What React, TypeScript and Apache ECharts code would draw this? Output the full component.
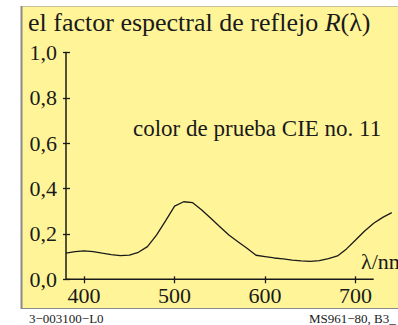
import React, { useEffect, useRef } from "react";
import * as echarts from "echarts";

const wavelengths = [380, 390, 400, 410, 420, 430, 440, 450, 460, 470, 480, 490, 500, 510, 520, 530, 540, 550, 560, 570, 580, 590, 600, 610, 620, 630, 640, 650, 660, 670, 680, 690, 700, 710, 720, 730, 740];
const reflectance = [0.115, 0.122, 0.125, 0.122, 0.115, 0.109, 0.104, 0.107, 0.119, 0.144, 0.195, 0.258, 0.323, 0.342, 0.338, 0.306, 0.269, 0.232, 0.195, 0.166, 0.137, 0.106, 0.100, 0.094, 0.090, 0.085, 0.081, 0.079, 0.082, 0.091, 0.103, 0.134, 0.173, 0.213, 0.247, 0.273, 0.294];
const xTickValues = [400, 500, 600, 700];
const yTickValues = [0, 0.2, 0.4, 0.6, 0.8, 1.0];
const xAxisExtent = [380, 720];

const FONT = "'Liberation Serif', 'Times New Roman', Times, serif";
const INK = "#1a1a1a";

export default function App() {
  const ref = useRef<HTMLDivElement>(null);
  useEffect(() => {
    document.body.style.margin = "0";
    if (!ref.current) return;
    const chart = echarts.init(ref.current, null, { renderer: "svg" });
    const tickLine = { color: INK, width: 1.3 };
    const txt = (text: string, x: number, y: number, size: number) => ({
      type: "text",
      x,
      y,
      style: { text, fontFamily: FONT, fontSize: size, fill: INK, verticalAlign: "middle" },
    });
    const option: any = {
      animation: false,
      title: [
        {
          text: "el factor espectral de reflejo {i|R}(λ)",
          left: 28,
          top: 9,
          padding: 0,
          textStyle: {
            fontFamily: FONT,
            fontSize: 26,
            fontWeight: "normal",
            color: INK,
            rich: { i: { fontFamily: FONT, fontSize: 26, fontStyle: "italic", color: INK } },
          },
        },
      ],
      graphic: [
        { type: "rect", z: -10, silent: true, shape: { x: 21, y: 6, width: 377, height: 302 }, style: { fill: "#fff598" } },
        { type: "line", z: -9, silent: true, shape: { x1: 21, y1: 6.5, x2: 398, y2: 6.5 }, style: { stroke: "#c8c29a", lineWidth: 1 } },
        { type: "line", z: -9, silent: true, shape: { x1: 21.5, y1: 6, x2: 21.5, y2: 309 }, style: { stroke: "#8a8a8a", lineWidth: 2 } },
        { type: "line", z: -9, silent: true, shape: { x1: 21, y1: 308.5, x2: 398, y2: 308.5 }, style: { stroke: "#8a8a8a", lineWidth: 1 } },
        txt("color de prueba CIE no. 11", 133, 128, 23),
        txt("λ/nm", 361, 261, 22),
        txt("3−003100−L0", 29, 318, 13),
        txt("MS961−80, B3_", 309, 318, 13),
      ],
      grid: { left: 66, right: 4.4, top: 52.5, bottom: 45.7 },
      xAxis: [
        {
          type: "value",
          min: 380,
          max: 742,
          position: "bottom",
          axisLine: { show: false },
          axisTick: { show: true, customValues: xTickValues, length: 4, lineStyle: tickLine },
          axisLabel: { customValues: xTickValues, margin: 5, fontFamily: FONT, fontSize: 22, color: INK },
          splitLine: { show: false },
        },
        {
          type: "value",
          min: 380,
          max: 742,
          position: "bottom",
          axisLine: { show: false },
          axisTick: { show: true, customValues: xTickValues, inside: true, length: 3, lineStyle: tickLine },
          axisLabel: { show: false },
          splitLine: { show: false },
        },
      ],
      yAxis: [
        {
          type: "value",
          min: 0,
          max: 1,
          position: "left",
          axisLine: { show: true, lineStyle: { color: INK, width: 1.5 } },
          axisTick: { show: true, customValues: yTickValues, length: 3, lineStyle: tickLine },
          axisLabel: {
            customValues: yTickValues,
            margin: 9,
            fontFamily: FONT,
            fontSize: 22,
            color: INK,
            formatter: (v: number) => v.toFixed(1).replace(".", ","),
          },
          splitLine: { show: false },
        },
        {
          type: "value",
          min: 0,
          max: 1,
          position: "left",
          axisLine: { show: false },
          axisTick: { show: true, customValues: yTickValues, inside: true, length: 4, lineStyle: tickLine },
          axisLabel: { show: false },
          splitLine: { show: false },
        },
      ],
      series: [
        {
          type: "line",
          xAxisIndex: 0,
          yAxisIndex: 0,
          data: xAxisExtent.map((w) => [w, 0]),
          showSymbol: false,
          silent: true,
          lineStyle: { color: INK, width: 1.5 },
        },
        {
          type: "line",
          xAxisIndex: 0,
          yAxisIndex: 0,
          data: wavelengths.map((w, i) => [w, reflectance[i]]),
          showSymbol: false,
          smooth: false,
          lineStyle: { color: INK, width: 1.3 },
        },
      ],
    };
    chart.setOption(option);
    return () => chart.dispose();
  }, []);
  return <div ref={ref} style={{ width: 398, height: 325 }} />;
}
